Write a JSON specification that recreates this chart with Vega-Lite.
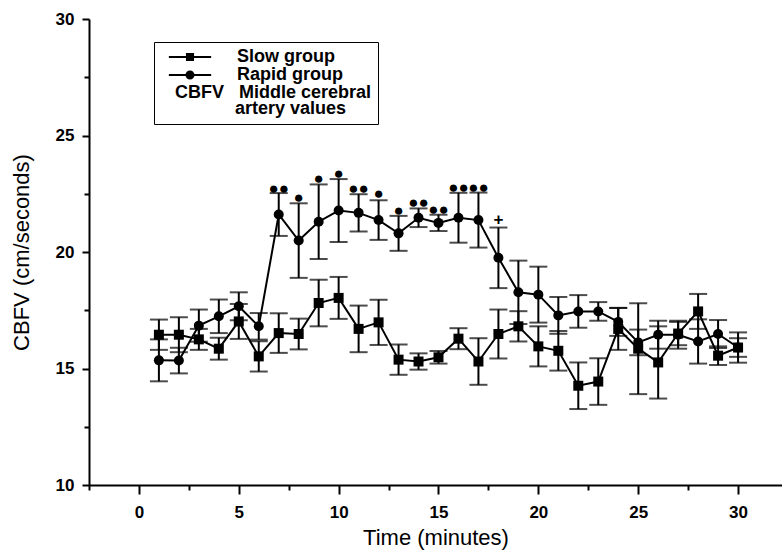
{
  "$schema": "https://vega.github.io/schema/vega-lite/v6.json",
  "width": 693,
  "height": 466,
  "autosize": {"type": "none"},
  "padding": {"left": 89, "top": 19, "right": 0, "bottom": 68},
  "background": "white",
  "config": {
    "view": {"stroke": null},
    "font": "Liberation Sans",
    "axis": {"titleColor": "black", "labelColor": "black", "tickColor": "black", "domainColor": "black"}
  },
  "datasets": {
    "main": [
      {"t": 1, "group": "Slow group", "mean": 16.45, "err": 0.65},
      {"t": 2, "group": "Slow group", "mean": 16.45, "err": 0.75},
      {"t": 3, "group": "Slow group", "mean": 16.25, "err": 0.45},
      {"t": 4, "group": "Slow group", "mean": 15.85, "err": 0.47},
      {"t": 5, "group": "Slow group", "mean": 17.02, "err": 0.75},
      {"t": 6, "group": "Slow group", "mean": 15.52, "err": 0.65},
      {"t": 7, "group": "Slow group", "mean": 16.52, "err": 0.85},
      {"t": 8, "group": "Slow group", "mean": 16.48, "err": 0.66},
      {"t": 9, "group": "Slow group", "mean": 17.81, "err": 1.0},
      {"t": 10, "group": "Slow group", "mean": 18.03, "err": 0.9},
      {"t": 11, "group": "Slow group", "mean": 16.7, "err": 1.0},
      {"t": 12, "group": "Slow group", "mean": 16.98, "err": 0.97},
      {"t": 13, "group": "Slow group", "mean": 15.38, "err": 0.65},
      {"t": 14, "group": "Slow group", "mean": 15.3, "err": 0.35},
      {"t": 15, "group": "Slow group", "mean": 15.48, "err": 0.27},
      {"t": 16, "group": "Slow group", "mean": 16.28, "err": 0.45},
      {"t": 17, "group": "Slow group", "mean": 15.3, "err": 1.0},
      {"t": 18, "group": "Slow group", "mean": 16.48, "err": 1.05},
      {"t": 19, "group": "Slow group", "mean": 16.81, "err": 0.65},
      {"t": 20, "group": "Slow group", "mean": 15.95, "err": 0.86},
      {"t": 21, "group": "Slow group", "mean": 15.76, "err": 0.85},
      {"t": 22, "group": "Slow group", "mean": 14.26, "err": 1.0},
      {"t": 23, "group": "Slow group", "mean": 14.44, "err": 1.0},
      {"t": 24, "group": "Slow group", "mean": 16.7, "err": 0.9},
      {"t": 25, "group": "Slow group", "mean": 15.85, "err": 1.95},
      {"t": 26, "group": "Slow group", "mean": 15.26, "err": 1.55},
      {"t": 27, "group": "Slow group", "mean": 16.5, "err": 0.5},
      {"t": 28, "group": "Slow group", "mean": 17.45, "err": 0.75},
      {"t": 29, "group": "Slow group", "mean": 15.55, "err": 0.4},
      {"t": 30, "group": "Slow group", "mean": 15.9, "err": 0.65},
      {"t": 1, "group": "Rapid group", "mean": 15.35, "err": 0.9},
      {"t": 2, "group": "Rapid group", "mean": 15.34, "err": 0.55},
      {"t": 3, "group": "Rapid group", "mean": 16.84, "err": 0.69},
      {"t": 4, "group": "Rapid group", "mean": 17.24, "err": 0.72},
      {"t": 5, "group": "Rapid group", "mean": 17.67, "err": 0.6},
      {"t": 6, "group": "Rapid group", "mean": 16.81, "err": 0.57},
      {"t": 7, "group": "Rapid group", "mean": 21.61, "err": 0.92},
      {"t": 8, "group": "Rapid group", "mean": 20.49, "err": 1.6},
      {"t": 9, "group": "Rapid group", "mean": 21.3, "err": 1.6},
      {"t": 10, "group": "Rapid group", "mean": 21.78, "err": 1.35},
      {"t": 11, "group": "Rapid group", "mean": 21.68, "err": 0.8},
      {"t": 12, "group": "Rapid group", "mean": 21.37, "err": 0.85},
      {"t": 13, "group": "Rapid group", "mean": 20.8, "err": 0.75},
      {"t": 14, "group": "Rapid group", "mean": 21.47, "err": 0.4},
      {"t": 15, "group": "Rapid group", "mean": 21.25, "err": 0.35},
      {"t": 16, "group": "Rapid group", "mean": 21.47, "err": 1.07},
      {"t": 17, "group": "Rapid group", "mean": 21.37, "err": 1.18},
      {"t": 18, "group": "Rapid group", "mean": 19.75, "err": 1.3},
      {"t": 19, "group": "Rapid group", "mean": 18.27, "err": 1.36},
      {"t": 20, "group": "Rapid group", "mean": 18.17, "err": 1.2},
      {"t": 21, "group": "Rapid group", "mean": 17.28, "err": 0.79},
      {"t": 22, "group": "Rapid group", "mean": 17.45, "err": 0.7},
      {"t": 23, "group": "Rapid group", "mean": 17.45, "err": 0.4},
      {"t": 24, "group": "Rapid group", "mean": 17.0, "err": 0.6},
      {"t": 25, "group": "Rapid group", "mean": 16.12, "err": 0.55},
      {"t": 26, "group": "Rapid group", "mean": 16.45, "err": 0.6},
      {"t": 27, "group": "Rapid group", "mean": 16.45, "err": 0.6},
      {"t": 28, "group": "Rapid group", "mean": 16.16, "err": 0.95},
      {"t": 29, "group": "Rapid group", "mean": 16.48, "err": 0.6},
      {"t": 30, "group": "Rapid group", "mean": 15.9, "err": 0.4}
    ],
    "sig": [
      {"t": 7, "pos": 22.69, "mark": "●●"},
      {"t": 8, "pos": 22.33, "mark": "●"},
      {"t": 9, "pos": 23.12, "mark": "●"},
      {"t": 10, "pos": 23.36, "mark": "●"},
      {"t": 11, "pos": 22.69, "mark": "●●"},
      {"t": 12, "pos": 22.47, "mark": "●"},
      {"t": 13, "pos": 21.75, "mark": "●"},
      {"t": 14, "pos": 22.11, "mark": "●●"},
      {"t": 15, "pos": 21.8, "mark": "●●"},
      {"t": 16, "pos": 22.73, "mark": "●●"},
      {"t": 17, "pos": 22.73, "mark": "●●"},
      {"t": 18, "pos": 21.37, "mark": "+"}
    ]
  },
  "encoding": {
    "x": {
      "field": "t",
      "type": "quantitative",
      "scale": {"domain": [-2.5, 32.2], "nice": false, "zero": false},
      "axis": {
        "values": [-2.5, 0, 2.5, 5, 7.5, 10, 12.5, 15, 17.5, 20, 22.5, 25, 27.5, 30],
        "format": "d",
        "labelExpr": "datum.value % 5 === 0 ? datum.label : ''",
        "tickSize": {"condition": {"test": "datum.value % 5 === 0", "value": 9}, "value": 5},
        "tickWidth": 2,
        "tickColor": "black",
        "domainColor": "black",
        "domainWidth": 2,
        "grid": false,
        "labelFont": "Liberation Sans",
        "labelFontSize": 17,
        "labelFontWeight": "bold",
        "labelColor": "black",
        "labelPadding": 10,
        "labelFlush": false,
        "labelOverlap": false,
        "title": "Time (minutes)",
        "titleFont": "Liberation Sans",
        "titleFontSize": 22,
        "titleFontWeight": "normal",
        "titleColor": "black",
        "titlePadding": 7
      }
    },
    "y": {
      "field": "mean",
      "type": "quantitative",
      "title": "CBFV (cm/seconds)",
      "scale": {"domain": [10, 30], "nice": false, "zero": false},
      "axis": {
        "values": [10, 12.5, 15, 17.5, 20, 22.5, 25, 27.5, 30],
        "format": "d",
        "labelExpr": "datum.value % 5 === 0 ? datum.label : ''",
        "tickSize": {"condition": {"test": "datum.value % 5 === 0", "value": 7}, "value": 5},
        "tickWidth": 2,
        "tickColor": "black",
        "domainColor": "black",
        "domainWidth": 2,
        "grid": false,
        "labelFont": "Liberation Sans",
        "labelFontSize": 17,
        "labelFontWeight": "bold",
        "labelColor": "black",
        "labelPadding": 8,
        "title": "CBFV (cm/seconds)",
        "titleFont": "Liberation Sans",
        "titleFontSize": 22,
        "titleFontWeight": "normal",
        "titleColor": "black",
        "titlePadding": 22
      }
    }
  },
  "layer": [
    {
      "data": {"name": "main"},
      "mark": {
        "type": "errorbar",
        "color": "black",
        "ticks": {"size": 18, "thickness": 2, "color": "black"},
        "rule": {"strokeWidth": 2, "color": "black"}
      },
      "encoding": {"yError": {"field": "err"}}
    },
    {
      "data": {"name": "main"},
      "mark": {"type": "line", "color": "black", "strokeWidth": 2},
      "encoding": {"detail": {"field": "group"}}
    },
    {
      "data": {"name": "main"},
      "mark": {"type": "point", "filled": true, "color": "black", "size": 100, "opacity": 1},
      "encoding": {
        "shape": {
          "field": "group",
          "type": "nominal",
          "scale": {"domain": ["Slow group", "Rapid group"], "range": ["square", "circle"]},
          "legend": null
        }
      }
    },
    {
      "data": {"name": "main"},
      "mark": {"type": "point", "filled": true, "color": "black", "size": 81, "opacity": 0},
      "encoding": {
        "shape": {
          "field": "group",
          "type": "nominal",
          "scale": {"domain": ["Slow group", "Rapid group"], "range": ["M-4.7,-0.22H4.7V0.22H-4.7Z M-0.9,-0.9H0.9V0.9H-0.9Z", "M-4.7,-0.22H4.7V0.22H-4.7Z M1,0A1,1 0 1,1 -1,0A1,1 0 1,1 1,0Z"]},
          "legend": {
            "orient": "none",
            "legendX": 65,
            "legendY": 23,
            "title": ["\u200b\u00a0\u00a0\u00a0CBFV\u00a0\u00a0\u00a0Middle cerebral", "\u200b\u00a0\u00a0\u00a0\u00a0\u00a0\u00a0\u00a0\u00a0\u00a0\u00a0\u00a0\u00a0\u00a0\u00a0\u00a0artery values"],
            "titleOrient": "bottom",
            "titleAnchor": "start",
            "titleFont": "Liberation Sans",
            "titleFontSize": 18,
            "titleFontWeight": "bold",
            "titleColor": "black",
            "titleLineHeight": 16,
            "titlePadding": 0,
            "titleLimit": 500,
            "labelFont": "Liberation Sans",
            "labelFontSize": 18,
            "labelFontWeight": "bold",
            "labelColor": "black",
            "labelOffset": 38,
            "symbolOffset": 21,
            "symbolSize": 81,
            "symbolOpacity": 1,
            "symbolStrokeWidth": 0,
            "symbolFillColor": "black",
            "padding": 6,
            "rowPadding": -5,
            "strokeColor": "black"
          }
        }
      }
    },
    {
      "data": {"name": "sig"},
      "mark": {"type": "text", "font": "Liberation Sans", "fontSize": 17, "fontWeight": "bold", "baseline": "middle", "color": "black"},
      "encoding": {
        "y": {"field": "pos", "type": "quantitative", "title": "CBFV (cm/seconds)"},
        "text": {"field": "mark"}
      }
    }
  ],
  "resolve": {"scale": {"shape": "independent"}, "legend": {"shape": "independent"}}
}
